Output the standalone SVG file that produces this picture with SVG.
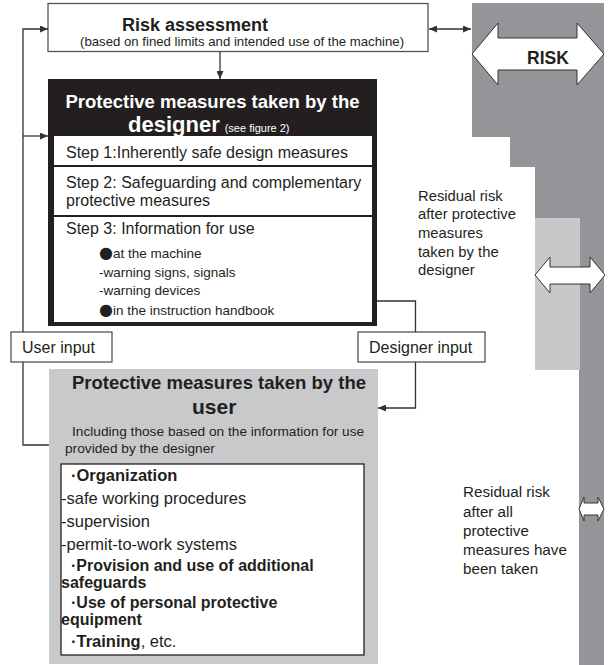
<svg xmlns="http://www.w3.org/2000/svg" width="608" height="665" viewBox="0 0 608 665">
<style>
text{font-family:"Liberation Sans",Arial,sans-serif;fill:#231f20}
.b{font-weight:bold}
.w{fill:#ffffff}
.dot{font-family:"DejaVu Sans",sans-serif;font-size:16px}
.ln{fill:none;stroke:#333333;stroke-width:1.3}
.box{fill:#ffffff;stroke:#555555;stroke-width:1.3}
.dbl{fill:#ffffff;stroke:#333333;stroke-width:1}
</style>
<defs>
<marker id="ah" markerUnits="userSpaceOnUse" markerWidth="8" markerHeight="7" refX="8" refY="3.5" orient="auto-start-reverse">
<path d="M0,0 L8,3.5 L0,7 z" fill="#333333"/>
</marker>
</defs>
<rect width="608" height="665" fill="#ffffff"/>
<g id="risk-column">
<polygon points="472,3 604,3 604,665 579,665 579,370 535,370 535,167 510,167 510,137 472,137" fill="#939598"/>
<rect x="535" y="218" width="45" height="152" fill="#c7c8ca"/>
<polygon class="dbl" points="472,54 498,23 498,38 577,38 577,23 604,54 577,85 577,70 498,70 498,85"/>
<text x="548" y="64" class="b" font-size="17.5" text-anchor="middle">RISK</text>
<polygon class="dbl" points="535,275 550,257 550,267 590,267 590,257 605,275 590,293 590,284 550,284 550,293"/>
<polygon class="dbl" points="579,509 584,497 584,503 598,503 598,497 604,509 598,521 598,515 584,515 584,521"/>
</g>
<g id="risk-assessment">
<rect class="box" x="48" y="3.5" width="380" height="48"/>
<text x="122" y="31" class="b" font-size="18">Risk assessment</text>
<text x="80" y="45.5" font-size="13.2">(based on fined limits and intended use of the machine)</text>
</g>
<g id="designer-measures">
<rect x="48" y="79" width="329" height="247" fill="#231f20"/>
<text x="212.5" y="107.5" class="b w" font-size="18.5" text-anchor="middle">Protective measures taken by the</text>
<text x="128" y="132" class="b w" font-size="22">designer<tspan font-size="11" font-weight="normal" dx="5">(see figure 2)</tspan></text>
<rect x="54" y="136" width="318" height="29" fill="#ffffff"/>
<text x="66" y="158" font-size="16">Step 1:Inherently safe design measures</text>
<rect x="54" y="167" width="318" height="48" fill="#ffffff"/>
<text x="66" y="188" font-size="16">Step 2: Safeguarding and complementary</text>
<text x="66" y="206" font-size="16">protective measures</text>
<rect x="54" y="217" width="318" height="105" fill="#ffffff"/>
<text x="66" y="234" font-size="16">Step 3: Information for use</text>
<text x="99" y="258" font-size="13.5"><tspan class="dot">●</tspan>at the machine</text>
<text x="99" y="277" font-size="13.5">-warning signs, signals</text>
<text x="99" y="295" font-size="13.5">-warning devices</text>
<text x="99" y="315" font-size="13.5"><tspan class="dot">●</tspan>in the instruction handbook</text>
</g>
<g id="user-input">
<rect class="box" x="11" y="332" width="101" height="30"/>
<text x="22" y="353" font-size="16">User input</text>
</g>
<g id="designer-input">
<rect class="box" x="358" y="332" width="127" height="30"/>
<text x="369" y="353" font-size="16">Designer input</text>
</g>
<g id="user-measures">
<rect x="49" y="369" width="329" height="295" fill="#c8c9cb"/>
<text x="219" y="389" class="b" font-size="18.5" text-anchor="middle">Protective measures taken by the</text>
<text x="192" y="414" class="b" font-size="21">user</text>
<text x="72" y="436" font-size="13.7">Including those based on the information for use</text>
<text x="65" y="453" font-size="13.7">provided by the designer</text>
<rect x="61" y="464" width="303" height="191" fill="#ffffff" stroke="#231f20" stroke-width="1.3"/>
<text x="71" y="481" class="b" font-size="16.5">·Organization</text>
<text x="61" y="504" font-size="16.5">-safe working procedures</text>
<text x="61" y="527" font-size="16.5">-supervision</text>
<text x="61" y="550" font-size="16.5">-permit-to-work systems</text>
<text x="71" y="571" class="b" font-size="16">·Provision and use of additional</text>
<text x="61" y="588" class="b" font-size="16">safeguards</text>
<text x="71" y="608" class="b" font-size="16">·Use of personal protective</text>
<text x="61" y="625" class="b" font-size="16">equipment</text>
<text x="71" y="647" font-size="16.5"><tspan font-weight="bold">·Training</tspan>, etc.</text>
</g>
<g id="residual-designer">
<text x="418" y="201" font-size="14.8">Residual risk</text>
<text x="418" y="219" font-size="14.8">after protective</text>
<text x="418" y="238" font-size="14.8">measures</text>
<text x="418" y="257" font-size="14.8">taken by the</text>
<text x="418" y="275" font-size="14.8">designer</text>
</g>
<g id="residual-all">
<text x="463" y="497" font-size="15.2">Residual risk</text>
<text x="463" y="517" font-size="15.2">after all</text>
<text x="463" y="536" font-size="15.2">protective</text>
<text x="463" y="555" font-size="15.2">measures have</text>
<text x="463" y="574" font-size="15.2">been taken</text>
</g>
<g id="connectors">
<path class="ln" d="M23,332 L23,29 L48,29" marker-end="url(#ah)"/>
<path class="ln" d="M23,136 L48,136" marker-end="url(#ah)"/>
<path class="ln" d="M23,362 L23,445 L49,445"/>
<path class="ln" d="M220,52 L220,79" marker-end="url(#ah)"/>
<path class="ln" d="M429,29 L471,29" marker-start="url(#ah)" marker-end="url(#ah)"/>
<path class="ln" d="M377,301 L415.5,301 L415.5,332"/>
<path class="ln" d="M415.5,362 L415.5,408 L378,408" marker-end="url(#ah)"/>
</g>
</svg>
